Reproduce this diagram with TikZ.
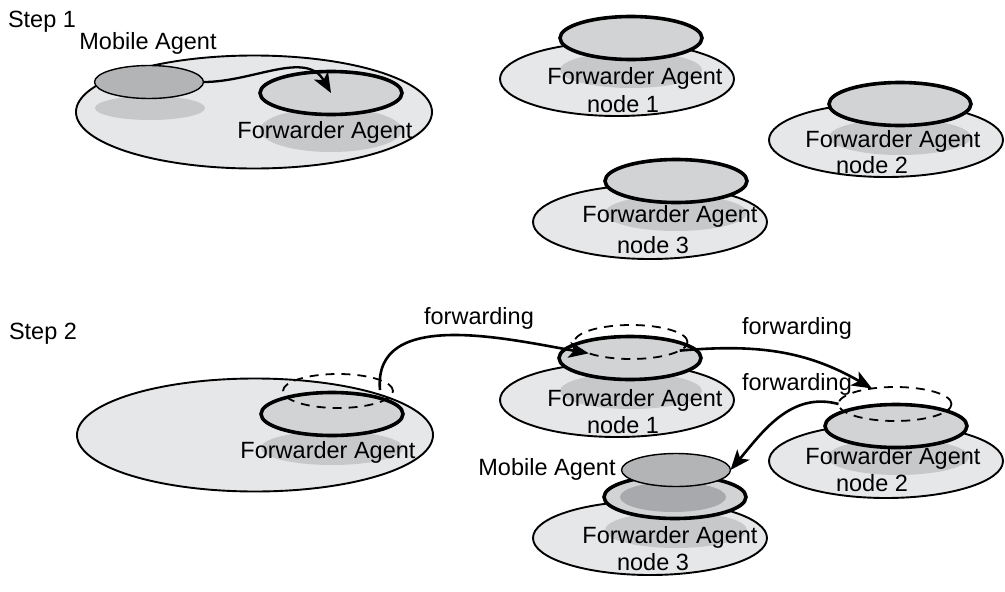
\documentclass[tikz,border=0pt]{standalone}
\usepackage{fontspec}
\setmainfont{Liberation Sans}
\usetikzlibrary{shapes.geometric,arrows.meta}
\definecolor{hostgray}{HTML}{E6E7E8}
\definecolor{agentgray}{HTML}{D1D3D4}
\definecolor{shadegray}{HTML}{C7C8CA}
\definecolor{mobilegray}{HTML}{B2B4B6}
\definecolor{coregray}{HTML}{A7A9AC}

\begin{document}
\begin{tikzpicture}[x=1pt,y=1pt,>={Stealth[length=20pt,width=16pt,inset=5pt]},
  font=\fontsize{23.5}{26}\selectfont,inner sep=0pt,outer sep=0pt,
  bighost/.style={ellipse,draw,line width=1.9pt,fill=hostgray,minimum width=356pt,minimum height=113pt},
  host/.style={ellipse,draw,line width=1.9pt,fill=hostgray,minimum width=234pt,minimum height=74pt},
  shade/.style={ellipse,fill=shadegray,minimum width=142pt,minimum height=36pt},
  agent/.style={ellipse,draw,line width=3.6pt,fill=agentgray,minimum width=142pt,minimum height=43pt},
  mobile/.style={ellipse,draw,line width=1.4pt,fill=mobilegray,minimum width=109pt,minimum height=33pt},
  core/.style={ellipse,fill=coregray,minimum width=106pt,minimum height=30pt},
  ghost/.style={ellipse,draw,dash pattern=on 9pt off 7pt,line width=1.8pt,minimum width=113pt,minimum height=34pt},
  link/.style={->,line width=2.6pt}]
  \useasboundingbox (0,-592) rectangle (1005,0);
  \node (step1) at (42,-22) {Step 1};
  \node[bighost] (home1) at (254,-112) {};
  \node[shade,minimum width=110pt,minimum height=24pt] (mshade1) at (150,-108) {};
  \node[shade,minimum height=44pt] (fshade1) at (331,-130) {};
  \node[agent] (fwd1) at (331,-93) {};
  \node[mobile] (mob1) at (149,-82) {};
  \node (mlabel1) at (148,-43) {Mobile Agent};
  \node (flabel1) at (325,-132) {Forwarder Agent};
  \node[host] (host1a) at (617,-79) {};
  \node[shade] (shade1a) at (631,-70) {};
  \node[agent] (fwd1a) at (631,-38) {};
  \node (text1a) at (635,-78) {Forwarder Agent};
  \node (name1a) at (623,-104) {node 1};
  \node[host] (host2a) at (886,-140) {};
  \node[shade] (shade2a) at (900,-137) {};
  \node[agent] (fwd2a) at (900,-104) {};
  \node (text2a) at (893,-141) {Forwarder Agent};
  \node (name2a) at (872,-165) {node 2};
  \node[host] (host3a) at (650,-222) {};
  \node[shade] (shade3a) at (676,-213) {};
  \node[agent] (fwd3a) at (676,-181) {};
  \node (text3a) at (670,-216) {Forwarder Agent};
  \node (name3a) at (653,-245) {node 3};
  \draw[link,line width=2.3pt] (mob1.east) to[out=0,in=120] (fwd1.center);

  \node (step2) at (43,-334) {Step 2};
  \node[bighost] (home2) at (255,-435) {};
  \node[shade,minimum height=34pt] (fshade2) at (332,-448) {};
  \node[agent] (fwd2) at (332,-414) {};
  \node[ghost,minimum width=110pt] (ghost0) at (338,-391) {};
  \node (flabel2) at (328,-452) {Forwarder Agent};
  \node[host] (host1b) at (617,-400) {};
  \node[shade] (shade1b) at (631,-391) {};
  \node[agent] (fwd1b) at (630,-358) {};
  \node[ghost] (ghost1) at (631,-342) {};
  \node (text1b) at (635,-400) {Forwarder Agent};
  \node (name1b) at (623,-425) {node 1};
  \node[host] (host2b) at (886,-461) {};
  \node[shade] (shade2b) at (898,-457) {};
  \node[agent] (fwd2b) at (896,-426) {};
  \node[ghost] (ghost2) at (895,-404) {};
  \node (text2b) at (893,-458) {Forwarder Agent};
  \node (name2b) at (872,-483) {node 2};
  \node[host] (host3b) at (650,-538) {};
  \node[shade] (shade3b) at (676,-530) {};
  \node[agent] (fwd3b) at (675,-497) {};
  \node[core] (core3b) at (673,-497) {};
  \node[mobile] (mob2) at (676,-470) {};
  \node (mlabel2) at (547,-469) {Mobile Agent};
  \node (text3b) at (670,-537) {Forwarder Agent};
  \node (name3b) at (653,-562) {node 3};
  \coordinate (leave0) at (380,-390);
  \draw[link] (leave0) to[out=95,in=170] (ghost1.195);
  \draw[link] (ghost1.-10) to[out=5,in=150] (ghost2.146);
  \draw[link] (ghost2.west) to[out=165,in=50] (mob2.east);
  \node (fw1) at (479,-318) {forwarding};
  \node (fw2) at (797,-328) {forwarding};
  \node (fw3) at (797,-384) {forwarding};
\end{tikzpicture}
\end{document}
